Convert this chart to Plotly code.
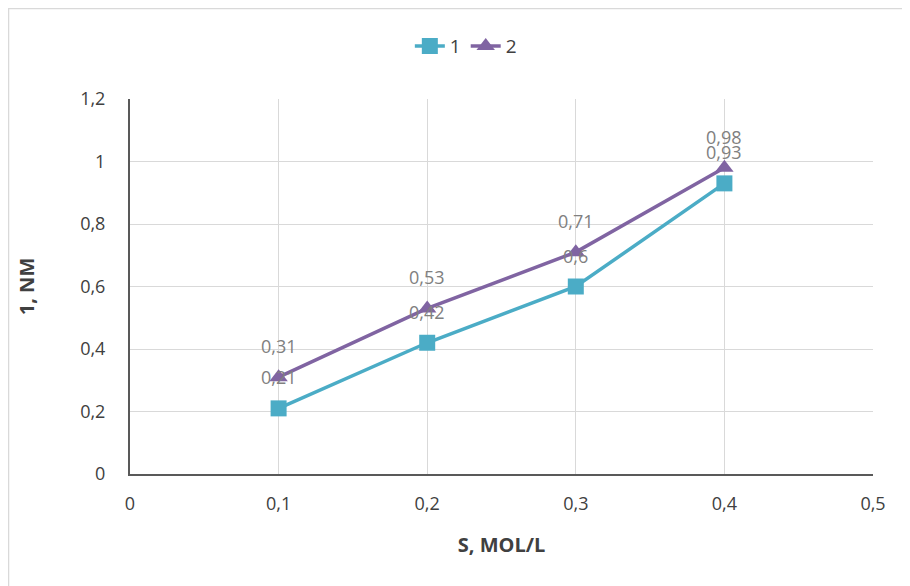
import plotly.graph_objects as go

x_vals = [0.1, 0.2, 0.3, 0.4]
series1 = [0.21, 0.42, 0.6, 0.93]
series2 = [0.31, 0.53, 0.71, 0.98]
series_names = ["1", "2"]
x_ticks = [0, 0.1, 0.2, 0.3, 0.4, 0.5]
y_ticks = [0, 0.2, 0.4, 0.6, 0.8, 1.0, 1.2]
x_title = "S, MOL/L"
y_title = "1, NM"

c1 = "#4BACC6"
c2 = "#8064A2"
font = "'Open Sans', Lato, sans-serif"

def fmt(v):
    return f"{v:g}".replace(".", ",")

fig = go.Figure()
fig.add_trace(go.Scatter(x=x_vals, y=series1, name=series_names[0], mode="lines+markers",
                         line=dict(color=c1, width=3.5),
                         marker=dict(symbol="square", size=16, color=c1)))
fig.add_trace(go.Scatter(x=x_vals, y=series2, name=series_names[1], mode="lines+markers",
                         line=dict(color=c2, width=3.5),
                         marker=dict(symbol="triangle-up", size=16, color=c2)))

annotations = []
for xs, ys in [(x_vals, series1), (x_vals, series2)]:
    for xv, yv in zip(xs, ys):
        annotations.append(dict(x=xv, y=yv, text=fmt(yv), showarrow=False, yshift=31,
                                font=dict(family=font, size=18, color="#808080")))

fig.update_layout(
    width=910, height=586,
    margin=dict(l=122, r=45, t=91, b=120),
    paper_bgcolor="white", plot_bgcolor="white",
    separators=", ",
    font=dict(family=font, size=18, color="#404040"),
    showlegend=True,
    legend=dict(orientation="h", x=0.452, xanchor="center", y=1.141, yanchor="middle",
                font=dict(size=19, color="#404040"), tracegroupgap=0),
    annotations=annotations,
    shapes=[dict(type="rect", xref="paper", yref="paper", x0=-0.1635, y0=-0.5, x1=1.2, y1=1.2413,
                 line=dict(color="#d9d9d9", width=1.5), layer="below")],
)
fig.update_xaxes(range=[0, 0.5], tickvals=x_ticks, showgrid=True, gridcolor="#d9d9d9", gridwidth=1,
                 zeroline=False, showline=True, linecolor="#595959", linewidth=2,
                 ticks="outside", ticklen=12, tickcolor="rgba(0,0,0,0)",
                 title=dict(text=f"<b>{x_title}</b>", standoff=24, font=dict(size=20, color="#404040")))
fig.update_yaxes(range=[0, 1.2], tickvals=y_ticks, showgrid=True, gridcolor="#d9d9d9", gridwidth=1,
                 zeroline=False, showline=True, linecolor="#595959", linewidth=2,
                 ticks="outside", ticklen=19, tickcolor="rgba(0,0,0,0)",
                 title=dict(text=f"<b>{y_title}</b>", standoff=40, font=dict(size=20, color="#404040")))

fig.write_html("out.html")
